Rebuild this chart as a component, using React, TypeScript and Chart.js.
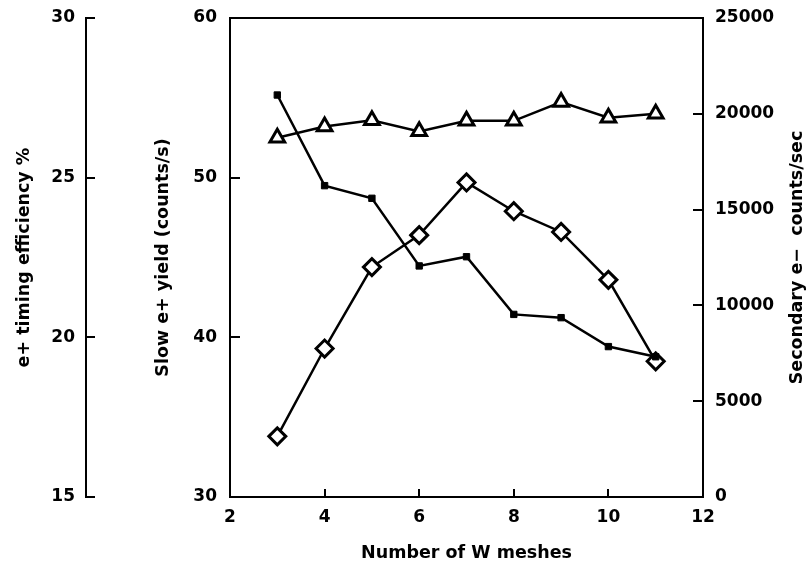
import React, { useEffect, useRef } from "react";
import { Chart, registerables } from "chart.js";

Chart.register(...registerables);

// Number of W meshes (x values)
const meshes = [3, 4, 5, 6, 7, 8, 9, 10, 11];
// Secondary e- counts/sec (filled squares, right axis)
const secondaryCounts = [20980, 16250, 15590, 12060, 12540, 9530, 9360, 7850, 7320];
// Slow e+ yield (counts/s) (open diamonds, inner left axis)
const slowYield = [33.8, 39.3, 44.4, 46.4, 49.7, 47.9, 46.6, 43.6, 38.5];
// e+ timing efficiency % (open triangles, outer left axis)
const timingEff = [26.25, 26.6, 26.8, 26.45, 26.78, 26.78, 27.37, 26.88, 27.0];

const xTitle = "Number of W meshes";
const outerTitle = "e+ timing efficiency %";
const innerTitle = "Slow e+ yield (counts/s)";
const rightTitle = "Secondary e\u2212  counts/sec";

const FAMILY = "'DejaVu Sans', 'Liberation Sans', sans-serif";
const tickFont = { family: FAMILY, size: 17, weight: "bold" as const };
const titleFont = { family: FAMILY, size: 17.5, weight: "bold" as const };

const toPoints = (ys: number[]) => meshes.map((x, i) => ({ x, y: ys[i] }));

const fixY = (w: number) => (s: any) => {
  s.width = w;
  s.paddingTop = 0;
  s.paddingBottom = 0;
};

export default function App() {
  const ref = useRef<HTMLCanvasElement | null>(null);

  useEffect(() => {
    if (!ref.current) return;

    const rightTitlePlugin = {
      id: "rightTitle",
      afterDraw(chart: any) {
        const { ctx, chartArea } = chart;
        ctx.save();
        ctx.font = `bold ${titleFont.size}px ${FAMILY}`;
        ctx.fillStyle = "#000";
        ctx.textAlign = "center";
        ctx.textBaseline = "middle";
        ctx.translate(797, (chartArea.top + chartArea.bottom) / 2);
        ctx.rotate(-Math.PI / 2);
        ctx.fillText(rightTitle, 0, 0);
        ctx.restore();
      },
    };

    const chart = new Chart(ref.current, {
      type: "line",
      data: {
        datasets: [
          {
            data: toPoints(secondaryCounts),
            yAxisID: "yR",
            borderColor: "#000",
            backgroundColor: "#000",
            borderWidth: 2.5,
            pointStyle: "rect",
            pointRadius: 4.5,
            pointBorderWidth: 1,
            pointBackgroundColor: "#000",
          },
          {
            data: toPoints(slowYield),
            yAxisID: "y",
            borderColor: "#000",
            borderWidth: 2.5,
            pointStyle: "rectRot",
            pointRadius: 8.5,
            pointBorderWidth: 3,
            pointBackgroundColor: "#fff",
            pointBorderColor: "#000",
          },
          {
            data: toPoints(timingEff),
            yAxisID: "yT",
            borderColor: "#000",
            borderWidth: 2.5,
            pointStyle: "triangle",
            pointRadius: 8.5,
            pointBorderWidth: 3,
            pointBackgroundColor: "#fff",
            pointBorderColor: "#000",
          },
        ],
      },
      options: {
        responsive: false,
        animation: false,
        devicePixelRatio: 1,
        layout: { padding: { top: 18, left: 0, right: 0, bottom: 0 } },
        plugins: { legend: { display: false }, tooltip: { enabled: false } },
        elements: { line: { tension: 0 } },
        scales: {
          x: {
            type: "linear",
            position: "bottom",
            min: 2,
            max: 12,
            ticks: { stepSize: 2, color: "#000", font: tickFont, padding: 18 },
            grid: { drawOnChartArea: false, drawTicks: true, tickLength: -8, color: "#000", lineWidth: 2 },
            border: { color: "#000", width: 2 },
            title: { display: true, text: xTitle, color: "#000", font: titleFont, padding: { top: 0, bottom: 5 } },
            afterFit: (s: any) => { s.height = 72; s.paddingLeft = 0; s.paddingRight = 0; },
          },
          xTop: {
            type: "linear",
            position: "top",
            min: 2,
            max: 12,
            ticks: { display: false },
            grid: { drawOnChartArea: false, drawTicks: false, color: "#000", lineWidth: 2 },
            border: { color: "#000", width: 2 },
            afterFit: (s: any) => { s.height = 0; s.paddingLeft = 0; s.paddingRight = 0; },
          },
          yT: {
            type: "linear",
            position: "left",
            weight: 2,
            min: 15,
            max: 30,
            ticks: { stepSize: 5, color: "#000", font: tickFont, padding: 20 },
            grid: { drawOnChartArea: false, drawTicks: true, tickLength: -9, color: "#000", lineWidth: 2 },
            border: { color: "#000", width: 2 },
            title: { display: true, text: outerTitle, color: "#000", font: titleFont, padding: { top: 14, bottom: 0 } },
            afterFit: fixY(86),
          },
          y: {
            type: "linear",
            position: "left",
            weight: 1,
            min: 30,
            max: 60,
            ticks: { stepSize: 10, color: "#000", font: tickFont, padding: 23 },
            grid: { drawOnChartArea: false, drawTicks: true, tickLength: -10, color: "#000", lineWidth: 2 },
            border: { color: "#000", width: 2 },
            title: { display: true, text: innerTitle, color: "#000", font: titleFont, padding: { top: 67, bottom: 0 } },
            afterFit: fixY(144),
          },
          yR: {
            type: "linear",
            position: "right",
            min: 0,
            max: 25000,
            ticks: { stepSize: 5000, color: "#000", font: tickFont, padding: 22, callback: (v: any) => String(v) },
            grid: { drawOnChartArea: false, drawTicks: true, tickLength: -10, color: "#000", lineWidth: 2 },
            border: { color: "#000", width: 2 },
            title: { display: false },
            afterFit: fixY(104),
          },
        },
      } as any,
      plugins: [rightTitlePlugin],
    });

    return () => chart.destroy();
  }, []);

  return (
    <div style={{ position: "fixed", left: 0, top: 0, width: 807, height: 569, background: "#fff" }}>
      <canvas ref={ref} width={807} height={569} />
    </div>
  );
}
